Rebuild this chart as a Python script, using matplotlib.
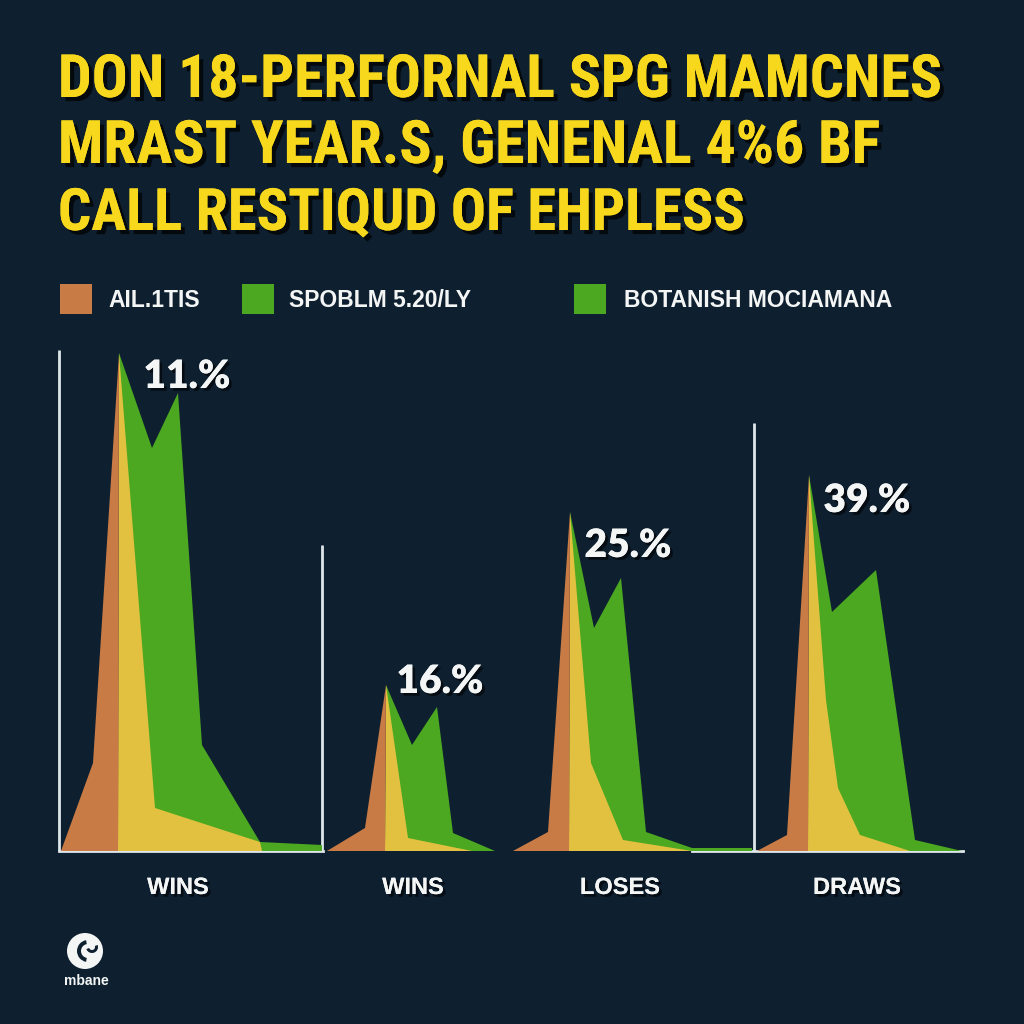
import matplotlib
matplotlib.use('Agg')
import matplotlib.pyplot as plt
from matplotlib import font_manager, patheffects
from matplotlib.patches import Rectangle, Circle, Wedge

# Text content
title_lines = ['DON 18-PERFORNAL SPG MAMCNES',
               'MRAST YEAR.S, GENENAL 4%6 BF',
               'CALL RESTIQUD OF EHPLESS']
legend_labels = ['AIL.1TIS', 'SPOBLM 5.20/LY', 'BOTANISH MOCIAMANA']
categories = ['WINS', 'WINS', 'LOSES', 'DRAWS']
pct_labels = ['11.%', '16.%', '25.%', '39.%']

# Shape profiles per group: offsets from group start, heights in %
orange_x = [[0, 32, 58], [0, 38, 59], [0, 35, 57], [0, 30, 52]]
orange_y = [[0, 17.6, 99.6], [0, 4.6, 33.2], [0, 3.8, 67.8], [0, 3.2, 75.2]]
yellow_x = [[94, 199, 201], [81, 145], [78, 110, 179], [69, 81, 103, 153]]
yellow_y = [[8.6, 1.8, 0], [2.6, 0], [17.6, 2.2, 0], [30.2, 12.6, 3.2, 0]]
green_x = [[91, 117, 141, 199, 261], [85, 110, 126, 168],
           [81, 108, 133, 179, 239], [75, 119, 158, 205]]
green_y = [[80.6, 91.6, 21.2, 1.8, 1.2], [21.2, 28.8, 3.6, 0],
           [44.6, 54.6, 3.8, 0.6, 0.6], [47.8, 56.2, 2.2, 0]]

# Layout
W = H = 1024
BASE_PX = 851          # baseline pixel row (from top)
PX_PER_UNIT = 5
group_x0 = [61, 327, 513, 757]
frame_x = [59, 322, 754]
frame_h = [100.2, 61.2, 85.6]
baseline_segs = [(59, 323), (692, 963)]
pct_x = [187, 440, 628, 867]
pct_y = [92.6, 31.6, 58.8, 67.8]
cat_x = [178, 413, 620, 857]
title_base = [97, 163, 230]
title_width = [884, 822, 687]

BG = '#0e2030'
ORANGE = '#c97b45'
YELLOW = '#e2c141'
GREEN = '#4ba820'
TITLE_YELLOW = '#f8d81c'
WHITE = '#f4f6f6'

names = {f.name for f in font_manager.fontManager.ttflist}
title_font = 'Liberation Sans'
for cand in ['Liberation Sans Narrow', 'Roboto Condensed', 'Open Sans Condensed']:
    if cand in names:
        title_font = cand
        break
pct_font = 'Lato' if 'Lato' in names else 'DejaVu Sans'

shadow = [patheffects.withSimplePatchShadow(offset=(2, -2), shadow_rgbFace='black', alpha=0.6),
          patheffects.Normal()]

fig = plt.figure(figsize=(W / 100, H / 100), dpi=100, facecolor=BG)
ax = fig.add_axes([0, 0, 1, 1])
ax.set_facecolor(BG)
ax.set_xlim(0, W)
ax.set_ylim((BASE_PX - H) / PX_PER_UNIT, BASE_PX / PX_PER_UNIT)
ax.axis('off')

# frame lines
for x, h in zip(frame_x, frame_h):
    ax.plot([x, x], [0, h], color='#dde6ea', lw=2, solid_capstyle='butt', zorder=1)
for a, b in baseline_segs:
    ax.plot([a, b], [0, 0], color='#dde6ea', lw=2, zorder=1)

for i, x0 in enumerate(group_x0):
    px = x0 + orange_x[i][-1]
    py = orange_y[i][-1]
    # green layer
    gx = [px] + [x0 + v for v in green_x[i]] + [x0 + green_x[i][-1], px]
    gy = [py] + green_y[i] + [0, 0]
    ax.fill(gx, gy, color=GREEN, lw=0, zorder=2)
    # yellow layer
    yx = [px - 1, px] + [x0 + v for v in yellow_x[i]] + [x0 + yellow_x[i][-1]]
    yy = [0, py] + yellow_y[i] + [0]
    ax.fill(yx, yy, color=YELLOW, lw=0, zorder=3)
    # orange layer
    ox = [x0 + v for v in orange_x[i]] + [px - 1]
    oy = orange_y[i] + [0]
    ax.fill(ox, oy, color=ORANGE, lw=0, zorder=4)

    ax.text(pct_x[i], pct_y[i], pct_labels[i], color=WHITE, fontsize=28,
            fontfamily=pct_font, fontweight='heavy', ha='center', va='baseline',
            path_effects=shadow, zorder=5)
    ax.text(cat_x[i], (BASE_PX - 894) / PX_PER_UNIT, categories[i], color=WHITE,
            fontsize=17, fontfamily='Liberation Sans', fontweight='bold',
            ha='center', va='baseline', path_effects=shadow)

# title, sized to fit the reference line widths
title_shadow = [patheffects.withSimplePatchShadow(offset=(3, -3), shadow_rgbFace='black', alpha=0.7),
                patheffects.Normal()]
titles = []
for line, base in zip(title_lines, title_base):
    titles.append(fig.text(58 / W, 1 - base / H, line, color=TITLE_YELLOW, fontsize=35,
                           fontfamily=title_font, fontweight='bold', ha='left',
                           va='baseline', path_effects=title_shadow))
fig.canvas.draw()
renderer = fig.canvas.get_renderer()
for t, target in zip(titles, title_width):
    w = t.get_window_extent(renderer).width
    t.set_fontsize(min(t.get_fontsize() * target / w, 44))

# legend
leg_colors = [ORANGE, GREEN, GREEN]
leg_patch_x = [60, 242, 574]
leg_text_x = [108, 289, 624]
for c, label, bx, tx in zip(leg_colors, legend_labels, leg_patch_x, leg_text_x):
    fig.add_artist(Rectangle((bx / W, 1 - 314 / H), 32 / W, 30 / H,
                             transform=fig.transFigure, color=c, lw=0))
    fig.text(tx / W, 1 - 307 / H, label, color=WHITE, fontsize=16.5,
             fontfamily='Liberation Sans', fontweight='bold', ha='left', va='baseline')

# logo
fig.add_artist(Circle((85 / W, 1 - 951 / H), 18 / W, transform=fig.transFigure,
                      color=WHITE, lw=0))
fig.add_artist(Wedge((88 / W, 1 - 951 / H), 11 / W, 100, 260, width=4 / W,
                     transform=fig.transFigure, color=BG, lw=0))
fig.add_artist(Wedge((92 / W, 1 - 947 / H), 6 / W, 200, 20, width=3 / W,
                     transform=fig.transFigure, color=BG, lw=0))
fig.text(86 / W, 1 - 985 / H, 'mbane', color=WHITE, fontsize=10,
         fontfamily='Liberation Sans', fontweight='bold', ha='center', va='baseline')

fig.savefig('out.png', dpi=100, facecolor=BG)
